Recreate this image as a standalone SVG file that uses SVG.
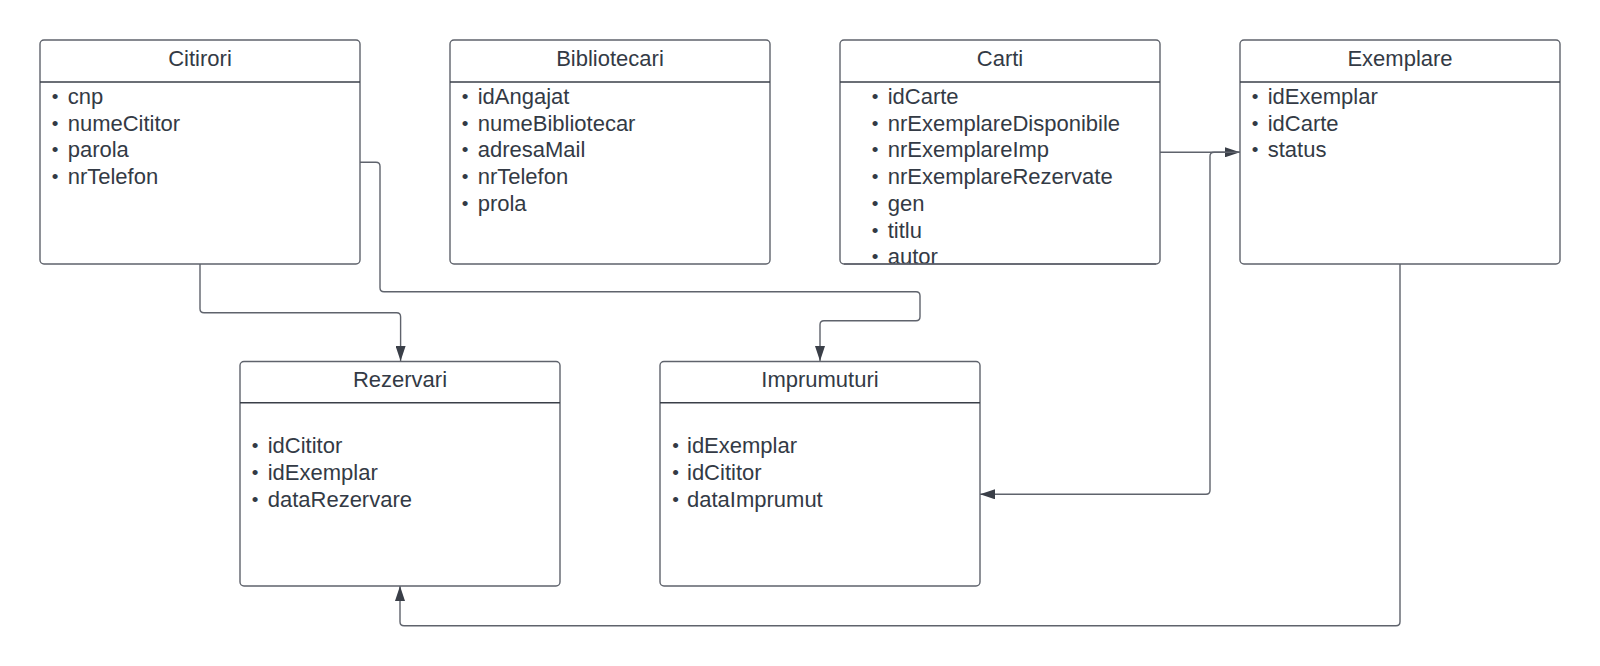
<svg xmlns="http://www.w3.org/2000/svg" width="1600" height="666" viewBox="0 0 1600 666">
<style>
  .box { fill: #ffffff; stroke: #5f636c; stroke-width: 1.4; }
  .div { stroke: #3a3f48; stroke-width: 1.4; }
  .t { font-family: "Liberation Sans", Arial, sans-serif; font-size: 22px; fill: #333a45; }
  .title { text-anchor: middle; }
  .b { text-anchor: middle; font-size: 19px; }
  .c { fill: none; stroke: #5f636c; stroke-width: 1.4; }
</style>
<defs>
  <marker id="arr" viewBox="0 0 15 10" refX="15" refY="5" markerWidth="15" markerHeight="10" markerUnits="userSpaceOnUse" orient="auto">
    <path d="M0,0 L15,5 L0,10 z" fill="#3a3f48"/>
  </marker>
</defs>
<rect width="1600" height="666" fill="#ffffff"/>

<g id="connectors">
  <path class="c" d="M200,264 V308.7 Q200,312.7 204,312.7 H396.6 Q400.6,312.7 400.6,316.7 V361" marker-end="url(#arr)"/>
  <path class="c" d="M360,162.3 H376 Q380,162.3 380,166.3 V287.7 Q380,291.7 384,291.7 H916 Q920,291.7 920,295.7 V316.7 Q920,320.7 916,320.7 H824 Q820,320.7 820,324.7 V361" marker-end="url(#arr)"/>
  <path class="c" d="M1160,152.3 H1240" marker-end="url(#arr)"/>
  <path class="c" d="M1240,152.3 H1214 Q1210,152.3 1210,156.3 V490.3 Q1210,494.3 1206,494.3 H980" marker-end="url(#arr)"/>
  <path class="c" d="M1400,264 V621.7 Q1400,625.7 1396,625.7 H404 Q400,625.7 400,621.7 V586" marker-end="url(#arr)"/>
</g>

<g id="citirori">
  <rect class="box" x="40" y="40" width="320" height="224" rx="4"/>
  <line class="div" x1="40" y1="82" x2="360" y2="82"/>
  <text class="t title" x="200" y="65.7">Citirori</text>
  <text class="t b" x="55" y="103">•</text><text class="t" x="67.7" y="104">cnp</text>
  <text class="t b" x="55" y="129.7">•</text><text class="t" x="67.7" y="130.7">numeCititor</text>
  <text class="t b" x="55" y="156.4">•</text><text class="t" x="67.7" y="157.4">parola</text>
  <text class="t b" x="55" y="183.1">•</text><text class="t" x="67.7" y="184.1">nrTelefon</text>
</g>

<g id="bibliotecari">
  <rect class="box" x="450" y="40" width="320" height="224" rx="4"/>
  <line class="div" x1="450" y1="82" x2="770" y2="82"/>
  <text class="t title" x="610" y="65.7">Bibliotecari</text>
  <text class="t b" x="465" y="103">•</text><text class="t" x="477.7" y="104">idAngajat</text>
  <text class="t b" x="465" y="129.7">•</text><text class="t" x="477.7" y="130.7">numeBibliotecar</text>
  <text class="t b" x="465" y="156.4">•</text><text class="t" x="477.7" y="157.4">adresaMail</text>
  <text class="t b" x="465" y="183.1">•</text><text class="t" x="477.7" y="184.1">nrTelefon</text>
  <text class="t b" x="465" y="209.8">•</text><text class="t" x="477.7" y="210.8">prola</text>
</g>

<g id="carti">
  <rect class="box" x="840" y="40" width="320" height="224" rx="4"/>
  <line class="div" x1="840" y1="82" x2="1160" y2="82"/>
  <text class="t title" x="1000" y="65.7">Carti</text>
  <text class="t b" x="875" y="103">•</text><text class="t" x="887.7" y="104">idCarte</text>
  <text class="t b" x="875" y="129.7">•</text><text class="t" x="887.7" y="130.7">nrExemplareDisponibile</text>
  <text class="t b" x="875" y="156.4">•</text><text class="t" x="887.7" y="157.4">nrExemplareImp</text>
  <text class="t b" x="875" y="183.1">•</text><text class="t" x="887.7" y="184.1">nrExemplareRezervate</text>
  <text class="t b" x="875" y="209.8">•</text><text class="t" x="887.7" y="210.8">gen</text>
  <text class="t b" x="875" y="236.5">•</text><text class="t" x="887.7" y="237.5">titlu</text>
  <text class="t b" x="875" y="263.2">•</text><text class="t" x="887.7" y="264.2">autor</text>
  <line x1="844" y1="264" x2="1156" y2="264" stroke="#5f636c" stroke-width="1.4"/>
</g>

<g id="exemplare">
  <rect class="box" x="1240" y="40" width="320" height="224" rx="4"/>
  <line class="div" x1="1240" y1="82" x2="1560" y2="82"/>
  <text class="t title" x="1400" y="65.7">Exemplare</text>
  <text class="t b" x="1255" y="103">•</text><text class="t" x="1267.7" y="104">idExemplar</text>
  <text class="t b" x="1255" y="129.7">•</text><text class="t" x="1267.7" y="130.7">idCarte</text>
  <text class="t b" x="1255" y="156.4">•</text><text class="t" x="1267.7" y="157.4">status</text>
</g>

<g id="rezervari">
  <rect class="box" x="240" y="361.5" width="320" height="224.5" rx="4"/>
  <line class="div" x1="240" y1="402.7" x2="560" y2="402.7"/>
  <text class="t title" x="400" y="387">Rezervari</text>
  <text class="t b" x="255" y="452.3">•</text><text class="t" x="267.7" y="453.3">idCititor</text>
  <text class="t b" x="255" y="479">•</text><text class="t" x="267.7" y="480">idExemplar</text>
  <text class="t b" x="255" y="505.7">•</text><text class="t" x="267.7" y="506.7">dataRezervare</text>
</g>

<g id="imprumuturi">
  <rect class="box" x="660" y="361.5" width="320" height="224.5" rx="4"/>
  <line class="div" x1="660" y1="402.7" x2="980" y2="402.7"/>
  <text class="t title" x="820" y="387">Imprumuturi</text>
  <text class="t b" x="675.5" y="452.3">•</text><text class="t" x="687" y="453.3">idExemplar</text>
  <text class="t b" x="675.5" y="479">•</text><text class="t" x="687" y="480">idCititor</text>
  <text class="t b" x="675.5" y="505.7">•</text><text class="t" x="687" y="506.7">dataImprumut</text>
</g>
</svg>
